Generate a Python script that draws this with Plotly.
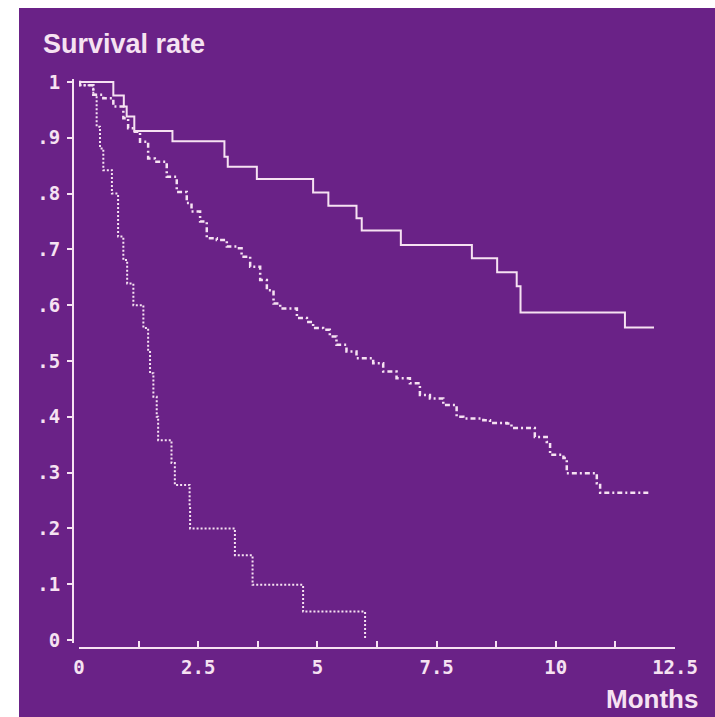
import plotly.graph_objects as go

# ---- data ----
solid_months = [0, 0.72, 0.94, 1.00, 1.16, 1.96, 3.05, 3.12, 3.73, 4.91, 5.23, 5.82, 5.93,
                6.75, 8.24, 8.77, 9.18, 9.26, 11.45, 12.06]
solid_surv = [1.0, 0.976, 0.956, 0.938, 0.912, 0.894, 0.866, 0.848, 0.826, 0.802, 0.778, 0.756,
              0.734, 0.708, 0.684, 0.659, 0.634, 0.587, 0.560, 0.560]

dashed_months = [0, 0.02, 0.30, 0.51, 0.72, 0.93, 1.03, 1.17, 1.28, 1.45,
                 1.59, 1.84, 2.05, 2.26, 2.36, 2.54, 2.68, 2.89, 3.10, 3.31,
                 3.41, 3.59, 3.80, 3.94, 4.08, 4.22, 4.57, 4.78, 4.91, 5.12,
                 5.26, 5.40, 5.61, 5.82, 6.17, 6.38, 6.66, 6.94, 7.15, 7.36,
                 7.64, 7.92, 8.06, 8.48, 8.62, 8.97, 9.07, 9.56, 9.81, 9.88,
                 10.16, 10.23, 10.86, 10.93, 11.98]
dashed_surv = [1.0, 0.994, 0.977, 0.971, 0.956, 0.935, 0.917, 0.911, 0.893, 0.863,
               0.857, 0.830, 0.803, 0.783, 0.768, 0.750, 0.720, 0.717, 0.705, 0.702,
               0.687, 0.669, 0.645, 0.627, 0.603, 0.594, 0.577, 0.570, 0.559, 0.556,
               0.544, 0.529, 0.517, 0.505, 0.496, 0.481, 0.469, 0.460, 0.439, 0.433,
               0.421, 0.400, 0.397, 0.394, 0.389, 0.388, 0.380, 0.364, 0.355, 0.332,
               0.326, 0.299, 0.281, 0.264, 0.264]

dotted_months = [0, 0.02, 0.30, 0.37, 0.44, 0.51, 0.69, 0.82, 0.93, 1.01,
                 1.14, 1.35, 1.45, 1.49, 1.56, 1.63, 1.66, 1.94, 2.01, 2.32,
                 2.33, 3.27, 3.64, 4.70, 6.00]
dotted_surv = [1.0, 0.994, 0.977, 0.920, 0.881, 0.842, 0.800, 0.723, 0.681, 0.639,
               0.600, 0.559, 0.520, 0.478, 0.436, 0.400, 0.358, 0.317, 0.278, 0.239,
               0.200, 0.152, 0.099, 0.051, 0.0]

x_tickvals = [0, 2.5, 5, 7.5, 10, 12.5]
x_ticktext = ["0", "2.5", "5", "7.5", "10", "12.5"]
y_tickvals = [0, 0.1, 0.2, 0.3, 0.4, 0.5, 0.6, 0.7, 0.8, 0.9, 1.0]
y_ticktext = ["0", ".1", ".2", ".3", ".4", ".5", ".6", ".7", ".8", ".9", "1"]

# ---- style ----
W, H = 715, 717
BG = "#6a2287"
INK = "#f6e2f2"
MONO = dict(family="DejaVu Sans Mono", size=19, color=INK, weight="bold")

def px_x(p):
    return p / W

def px_y(p):
    return 1 - p / H

fig = go.Figure()
fig.add_trace(go.Scatter(x=solid_months, y=solid_surv, mode="lines", line_shape="hv",
                         line=dict(color=INK, width=2), hoverinfo="skip"))
fig.add_trace(go.Scatter(x=dashed_months, y=dashed_surv, mode="lines", line_shape="hv",
                         line=dict(color=INK, width=2.5, dash="5px,3px,2px,3px"), hoverinfo="skip"))
fig.add_trace(go.Scatter(x=dotted_months, y=dotted_surv, mode="lines", line_shape="hv",
                         line=dict(color=INK, width=2, dash="2px,2px"), hoverinfo="skip"))

fig.update_layout(
    width=W, height=H,
    margin=dict(l=0, r=0, t=0, b=0),
    paper_bgcolor="white",
    plot_bgcolor="rgba(0,0,0,0)",
    showlegend=False,
    shapes=[dict(type="rect", xref="paper", yref="paper",
                 x0=px_x(19), x1=1, y0=0, y1=px_y(8),
                 fillcolor=BG, line=dict(width=0), layer="below")],
    xaxis=dict(
        domain=[px_x(79), px_x(675)], range=[0, 12.5],
        anchor="free", position=px_y(648),
        showline=True, linecolor=INK, linewidth=2,
        showgrid=False, zeroline=False,
        ticks="inside", ticklen=6, tickwidth=2, tickcolor=INK,
        tickvals=x_tickvals, ticktext=x_ticktext,
        tickfont=MONO, ticklabelstandoff=2,
        minor=dict(tickvals=[1.25, 3.75, 6.25, 8.75, 11.25], ticks="inside",
                   ticklen=6, tickwidth=2, tickcolor=INK, showgrid=False),
        automargin=False, fixedrange=True,
    ),
    yaxis=dict(
        domain=[px_y(642.8), px_y(79.2)], range=[-0.005, 1.005],
        anchor="free", position=px_x(73),
        showline=True, linecolor=INK, linewidth=2,
        showgrid=False, zeroline=False,
        ticks="outside", ticklen=5, tickwidth=2, tickcolor=INK,
        tickvals=y_tickvals, ticktext=y_ticktext,
        tickfont=MONO, ticklabelstandoff=3,
        automargin=False, fixedrange=True,
    ),
    annotations=[
        dict(text="Survival rate", xref="paper", yref="paper",
             x=px_x(41), y=px_y(44), xanchor="left", yanchor="middle", showarrow=False,
             font=dict(family="Liberation Sans", size=27, color=INK, weight="bold")),
        dict(text="Months", xref="paper", yref="paper",
             x=px_x(700), y=px_y(699), xanchor="right", yanchor="middle", showarrow=False,
             font=dict(family="Liberation Sans", size=26, color=INK, weight="bold")),
    ],
)

fig.write_html("out.html")
